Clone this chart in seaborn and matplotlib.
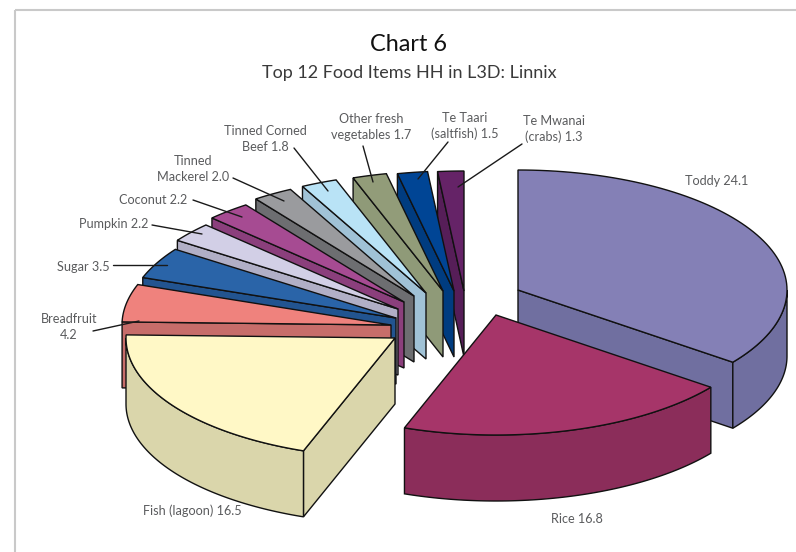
import numpy as np
import matplotlib
matplotlib.use("Agg")
import matplotlib.pyplot as plt
from matplotlib.patches import Rectangle
import seaborn as sns

# Survey figures: share of households naming each food item
items = ["Toddy", "Rice", "Fish (lagoon)", "Breadfruit\n", "Sugar", "Pumpkin", "Coconut",
         "Tinned\nMackerel", "Tinned Corned\nBeef", "Other fresh\nvegetables",
         "Te Taari\n(saltfish)", "Te Mwanai\n(crabs)"]
values = [24.1, 16.8, 16.5, 4.2, 3.5, 2.2, 2.2, 2.0, 1.8, 1.7, 1.5, 1.3]

top_colors = ["#8480B6", "#A63569", "#FFF8C6", "#EF827D", "#2A64A8", "#D2CFE6",
              "#A64B92", "#9A9B9E", "#B9E3F6", "#929C79", "#004595", "#652367"]
side_colors = ["#706FA0", "#8B2D5A", "#DAD6AB", "#C76D6A", "#225490", "#B1AFC6",
               "#8B3F7C", "#6D6E71", "#A0C2D6", "#8F9A78", "#003C80", "#561E58"]

# Exploded position of each wedge's tip, in figure pixels
tip_x = [518, 496, 395, 391, 396, 398, 404, 414, 426, 443, 454, 464]
tip_y = [290, 315, 338, 325, 318, 309, 302, 296, 293, 291, 291, 291]

# Projected pie geometry
RX, RY, DEPTH = 269, 120, 66

# Label anchor (centre x, centre y) and leader line (x0, y0, x1, y1) per wedge
label_pos = [(717, 181), (577, 519), (192, 511), (69, 327), (83, 267), (114, 224),
             (153, 200), (193, 169), (265, 139), (371, 127), (465, 126), (554, 129)]
leaders = [None, None, None,
           (93, 331, 139, 321), (113, 265, 167, 265), (152, 225, 202, 234),
           (193, 200, 242, 217), (233, 178, 284, 201), (294, 148, 328, 191),
           (363, 146, 373, 182), (448, 142, 418, 179), (522, 144, 458, 187)]

sns.set_theme(style="white")
plt.rcParams["font.family"] = ["Lato", "DejaVu Sans"]

fig = plt.figure(figsize=(7.96, 5.52), dpi=100)
ax = fig.add_axes([0, 0, 1, 1])
ax.set_xlim(0, 796)
ax.set_ylim(552, 0)
ax.axis("off")

# Page frame, open toward the right and bottom edges
ax.add_patch(Rectangle((15, 10), 900, 700, fill=False, edgecolor="#C9C9C9", linewidth=1.5))

cum = np.concatenate([[0], np.cumsum(values)])
total = cum[-1]
# The large wedge is foreshortened toward the viewer, so sweep is eased around it
edges = np.interp(cum, [0, values[0], total], [0, 127, 360])


def rim(theta_deg, cx, cy, drop=0):
    t = np.radians(theta_deg)
    return cx + RX * np.sin(t), cy - RY * np.cos(t) + drop


def arc(a, b, cx, cy, drop=0):
    th = np.linspace(a, b, 80)
    return rim(th, cx, cy, drop)


EDGE = dict(edgecolor="#111111", linewidth=1.0, joinstyle="miter")


def draw_wedge(i):
    a, b = edges[i], edges[i + 1]
    cx, cy = tip_x[i], tip_y[i]
    side, top = side_colors[i], top_colors[i]
    # cut face that turns toward the viewer
    for theta, visible in ((a, 180 <= a < 360), (b, 0 < b <= 180)):
        if visible:
            ex, ey = rim(theta, cx, cy)
            ax.fill([cx, ex, ex, cx], [cy, ey, ey + DEPTH, cy + DEPTH], facecolor=side, **EDGE)
    # outer wall, front half only
    lo, hi = max(a, 90), min(b, 270)
    if lo < hi:
        x0, y0 = arc(lo, hi, cx, cy)
        x1, y1 = arc(hi, lo, cx, cy, DEPTH)
        ax.fill(np.r_[x0, x1], np.r_[y0, y1], facecolor=side, **EDGE)
    # top face
    x, y = arc(a, b, cx, cy)
    ax.fill(np.r_[cx, x], np.r_[cy, y], facecolor=top, **EDGE)


for i in [11, 10, 9, 8, 7, 6, 5, 4, 3, 2, 0, 1]:
    draw_wedge(i)

for seg in leaders:
    if seg is not None:
        ax.plot([seg[0], seg[2]], [seg[1], seg[3]], color="#1A1A1A", linewidth=1.0)

for name, val, (lx, ly) in zip(items, values, label_pos):
    if name.endswith("\n"):
        text = f"{name}{val}"
    else:
        text = f"{name} {val}"
    ax.text(lx, ly, text, ha="center", va="center", fontsize=9.1, color="#5A5B5D",
            linespacing=1.35, multialignment="center")

ax.text(409, 51, "Chart 6", ha="center", va="baseline", fontsize=16.9, color="#111111")
ax.text(409, 78, "Top 12 Food Items HH in L3D: Linnix", ha="center", va="baseline",
        fontsize=13.0, color="#3A3A3A")

fig.savefig("out.png", dpi=100)
